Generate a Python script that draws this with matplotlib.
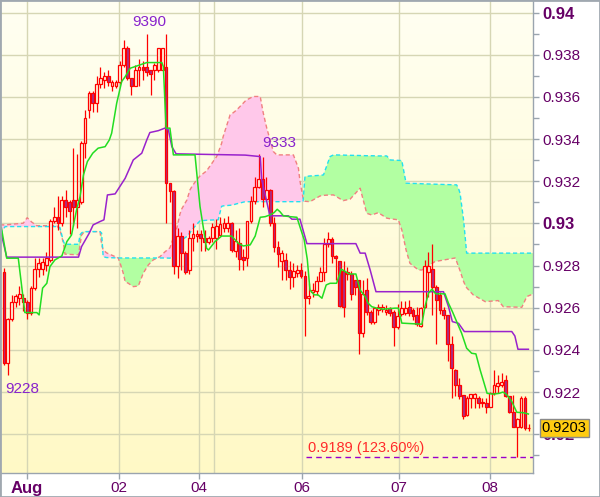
import numpy as np
import matplotlib
matplotlib.use("Agg")
import matplotlib.pyplot as plt
from matplotlib.patches import Rectangle
from matplotlib.colors import LinearSegmentedColormap
from matplotlib.transforms import blended_transform_factory

plt.rcParams['font.family'] = ['Liberation Sans', 'DejaVu Sans']

# hourly bars, prices in pips (0.9xxx * 10000): (open, high, low, close)
bars = [
    (9277, 9279, 9233, 9234), (9234, 9255, 9228, 9254.5), (9254.5, 9266, 9253.5, 9262.5),
    (9262.5, 9266.5, 9260.5, 9265.5), (9264.5, 9270.5, 9261.5, 9266.5), (9264.5, 9266.5, 9258.5, 9262.5),
    (9262.5, 9263.5, 9254.5, 9257.5), (9257.5, 9270.5, 9256.5, 9269.5), (9269.5, 9283.5, 9268.5, 9278.5),
    (9278.5, 9283.5, 9274.5, 9281), (9278.5, 9283.5, 9275.5, 9281.5), (9280.5, 9286.5, 9277.5, 9283.5),
    (9282.5, 9302, 9281.5, 9301), (9301, 9308, 9300, 9303), (9303, 9313, 9297, 9300),
    (9300, 9313, 9299, 9311), (9311, 9316, 9303, 9308), (9310, 9311, 9295, 9306),
    (9311, 9336, 9299, 9308), (9308, 9333, 9298, 9311), (9310, 9339, 9309, 9338),
    (9338, 9354, 9331, 9350), (9354, 9363, 9350, 9362), (9362, 9363, 9353, 9357),
    (9357, 9370, 9353, 9366), (9366, 9374, 9364, 9369), (9368, 9372, 9364, 9370),
    (9370, 9373, 9365, 9367), (9365, 9368, 9363, 9367), (9365, 9368, 9364, 9367),
    (9367, 9377, 9366, 9375), (9375, 9387, 9374, 9383), (9383, 9384, 9368, 9369),
    (9369, 9369, 9361, 9365), (9365, 9375, 9365, 9373), (9373, 9378, 9365, 9374),
    (9374, 9377, 9368, 9373), (9374, 9390, 9370, 9372), (9373, 9373, 9361, 9371),
    (9373, 9376, 9368, 9375), (9373, 9383, 9372, 9383), (9373, 9383, 9373, 9383),
    (9374, 9390, 9300, 9319), (9319, 9319, 9310, 9315.5), (9315.5, 9316, 9276, 9280),
    (9280, 9298, 9274, 9294), (9294, 9296, 9278, 9286), (9286, 9287, 9276, 9277),
    (9278, 9297, 9276, 9293), (9293, 9300, 9287, 9295), (9294, 9297, 9291, 9295),
    (9295, 9297, 9287, 9293), (9293, 9297, 9287, 9291), (9291, 9294, 9290, 9293),
    (9293, 9300, 9291, 9298.5), (9293, 9302, 9288, 9299), (9294.5, 9303, 9294, 9299.5),
    (9298, 9302.5, 9296, 9300), (9298, 9303.5, 9296, 9300), (9300, 9300.5, 9286.5, 9287.5),
    (9287, 9297, 9284, 9291.5), (9290.5, 9298, 9278, 9283), (9284, 9288, 9278, 9282.5),
    (9283.5, 9301, 9280, 9301), (9301, 9313, 9300, 9310.5), (9310.5, 9322, 9309, 9317.5),
    (9317.5, 9333, 9317, 9321), (9321, 9331.5, 9308, 9311.5), (9311.5, 9322, 9311, 9316),
    (9316, 9316.5, 9299, 9300), (9300, 9303, 9286.5, 9289), (9289, 9291.5, 9279.5, 9285.5),
    (9282, 9287.5, 9273, 9286), (9282.5, 9286, 9273, 9278), (9278, 9282, 9269, 9274.5),
    (9274.5, 9281, 9270, 9277.5), (9276.5, 9280.5, 9274.5, 9278), (9278, 9281, 9274, 9275),
    (9275, 9277.5, 9246.5, 9264.5), (9264.5, 9271.5, 9262, 9265.5), (9267.5, 9271.5, 9265, 9268.5),
    (9268, 9275, 9266, 9272.5), (9272.5, 9279.5, 9272.5, 9277), (9277, 9293, 9272.5, 9290),
    (9290, 9296, 9289, 9292.5), (9292.5, 9293.5, 9281, 9284.5), (9284.5, 9285, 9273, 9283.5),
    (9282, 9282, 9260.5, 9261), (9277.5, 9282, 9255.5, 9260.5), (9276, 9279.5, 9273, 9277),
    (9276, 9277.5, 9263.5, 9266.5), (9273, 9273, 9266, 9270), (9273, 9273, 9238, 9248),
    (9248, 9273, 9246, 9266.5), (9268.5, 9274, 9256.5, 9258), (9258, 9259, 9252.5, 9253),
    (9253, 9260.5, 9252.5, 9260), (9259, 9262, 9256.5, 9260.5), (9259.5, 9262, 9258, 9260.5),
    (9258, 9261.5, 9256.5, 9259), (9260, 9260.5, 9256, 9257.5), (9258, 9259, 9242, 9251),
    (9251, 9262, 9250, 9256), (9257, 9263, 9256, 9260), (9257.5, 9263, 9256.5, 9260),
    (9260.5, 9263.5, 9256, 9257.5), (9259, 9260, 9254, 9256), (9256.5, 9260.5, 9251.5, 9252.5),
    (9251.5, 9260.5, 9251, 9260), (9260.5, 9282.5, 9260, 9280), (9277, 9286.5, 9265, 9280),
    (9278.5, 9290, 9256.5, 9270), (9270, 9271, 9243, 9263.5), (9266, 9267.5, 9257, 9259),
    (9259, 9260.5, 9254.5, 9256.5), (9256.5, 9256.5, 9234.5, 9243), (9243, 9246.5, 9217, 9231.5),
    (9230.5, 9231, 9218, 9223.5), (9223.5, 9226.5, 9216.5, 9218), (9218.5, 9218.5, 9207, 9208.5),
    (9209, 9218, 9208.5, 9217), (9217, 9219, 9212.5, 9219), (9217, 9219.5, 9212.5, 9219),
    (9217, 9218, 9212.5, 9215), (9215.5, 9217, 9213, 9215), (9215, 9217, 9210, 9213),
    (9213, 9220, 9213, 9219.5), (9219.5, 9230.5, 9218.5, 9223.5), (9223, 9228, 9219.5, 9224.5),
    (9223.5, 9229, 9222.5, 9225), (9225.5, 9228, 9217.5, 9218), (9218, 9218, 9210, 9210.5),
    (9210.5, 9218.5, 9203.5, 9203.5), (9203.5, 9207.5, 9189, 9207), (9203.5, 9218, 9203, 9217),
    (9217, 9218, 9202, 9203), (9203, 9205, 9201.5, 9203),
]

# tenkan-sen (green) and kijun-sen (purple) as (bar, price) vertices
tenkan_pts = [
    (-0.7, 9298), (0.7, 9283.5), (3.7, 9283.5), (5.4, 9257.7), (8.5, 9257.7), (9.1, 9256.6),
    (10.0, 9269.3), (11.1, 9271.6), (11.9, 9279.5), (13.2, 9282.7), (15.0, 9284.6), (16.3, 9291.4),
    (17.5, 9294.5), (18.8, 9306.4), (19.7, 9312.7), (20.6, 9323), (21.6, 9329.3), (23.0, 9333.3),
    (24.4, 9335.7), (26.2, 9336.4), (27.3, 9339.6), (27.9, 9342.8), (29.2, 9357), (30.5, 9367.3),
    (31.4, 9369.6), (32.7, 9373.6), (37.0, 9376.3), (40.9, 9376.3), (41.3, 9374.4), (42.0, 9345.2),
    (43.0, 9345.2), (43.9, 9332.5), (49.5, 9332.5), (50.8, 9308), (52.5, 9288.2), (53.0, 9287.4),
    (54.7, 9291.4), (56.4, 9294), (59.0, 9294), (60.7, 9290.6), (62.0, 9289.3), (63.8, 9289.8),
    (65.1, 9294), (66.4, 9302.9), (67.7, 9303.2), (68.9, 9304), (70.0, 9305.1), (70.8, 9306.7),
    (71.5, 9305.6), (72.4, 9303.6), (74.1, 9303.2), (75.9, 9302.9), (77.8, 9292.2), (78.6, 9283),
    (79.3, 9268.4), (80.4, 9266.1), (81.4, 9266.1), (82.4, 9264.5), (83.5, 9270.8), (84.5, 9271.6),
    (86.2, 9271.6), (87.4, 9278.3), (88.5, 9277.1), (89.5, 9276), (91.2, 9276), (92.3, 9268.4),
    (93.6, 9265.3), (94.4, 9262.1), (95.3, 9260.5), (96.6, 9259.8), (98.3, 9259.3), (101.3, 9259.8),
    (102.2, 9259.8), (103.1, 9252.7), (107.0, 9252.3), (108.3, 9252.2), (109.1, 9260.5), (110.0, 9266.9),
    (110.9, 9268.8), (111.9, 9266.6), (114.3, 9266.6), (115.2, 9262.1), (116.2, 9258.2), (118.6, 9247.9),
    (119.9, 9240.8), (121.2, 9238.4), (122.3, 9238.1), (123.4, 9230.5), (124.3, 9225), (125.2, 9219.4),
    (126.8, 9219), (128.4, 9219.4), (129.3, 9220), (130.3, 9218.8), (131.6, 9215.5), (132.9, 9210.4),
    (134.6, 9210.2), (135.9, 9209.6),
]
kijun_pts = [
    (-0.7, 9295), (0.7, 9284), (19.3, 9284), (20.1, 9289), (22.1, 9295.4), (23.1, 9299.3),
    (24.9, 9300.9), (25.9, 9301.7), (26.8, 9313.5), (28.8, 9314), (31.4, 9321.4), (33.5, 9330.1),
    (35.7, 9333.3), (37.0, 9339.6), (37.8, 9343.1), (40.0, 9344), (41.7, 9345.2), (42.6, 9344.4),
    (43.5, 9336.4), (44.6, 9333), (62.5, 9332.4), (66.4, 9331.7), (66.8, 9320.6), (68.1, 9310.3),
    (68.9, 9303.6), (73.7, 9303.6), (74.6, 9302), (76.7, 9302), (78.5, 9290.4), (91.2, 9290.4),
    (92.3, 9285.9), (93.6, 9285.9), (94.9, 9277.9), (96.4, 9267.6), (113.9, 9267.6), (115.2, 9260.5),
    (116.2, 9253.4), (117.8, 9252.6), (119.3, 9248.7), (131.6, 9248.7), (132.4, 9246.6), (133.2, 9240.3),
    (135.9, 9240.3),
]

# cloud: (bar, senkou A, senkou B)
cloud_pts = [
    (-1.0, 9295, 9299.3), (0.3, 9298.5, 9299.3), (5.0, 9298.5, 9300.1), (6.0, 9298.5, 9302.7),
    (7.2, 9298.5, 9300.6), (8.5, 9298.5, 9298.9), (13.7, 9298.5, 9298.9), (14.5, 9298, 9296.9),
    (15.4, 9291.4, 9290.6), (15.8, 9290.1, 9285.4), (19.3, 9290.1, 9285.1), (19.7, 9294.5, 9289.8),
    (20.1, 9295.5, 9294.5), (20.6, 9296.1, 9295.5), (21.4, 9296.1, 9296.1), (24.9, 9296.1, 9296.1),
    (25.3, 9295.4, 9290), (25.7, 9284.2, 9287.4), (26.6, 9283.8, 9286), (29.6, 9283.6, 9283.6),
    (30.1, 9283.6, 9281.1), (30.9, 9283.6, 9276.4), (31.4, 9283.6, 9272.4), (32.2, 9283.6, 9271.6),
    (33.5, 9283.6, 9270), (34.8, 9283.6, 9270.3), (36.1, 9283.6, 9276.4), (37.4, 9283.6, 9280.3),
    (38.7, 9283.6, 9282.7), (40.4, 9283.6, 9284.2), (41.7, 9283.6, 9286.5), (43.0, 9283.5, 9288.4),
    (44.8, 9285.9, 9297.9), (45.6, 9289, 9304.5), (46.1, 9292.2, 9307), (47.4, 9293.8, 9311.1),
    (48.2, 9295.5, 9315.9), (48.7, 9296.9, 9317.5), (49.9, 9299.5, 9320.6), (50.8, 9301.2, 9322.5),
    (52.5, 9301.5, 9324.9), (55.1, 9301.7, 9331.7), (55.5, 9301.7, 9333.5), (56.4, 9308.1, 9338),
    (56.8, 9308.3, 9341.2), (58.6, 9308.6, 9351.5), (59.4, 9308.8, 9352.5), (60.3, 9309.3, 9353.8),
    (62.5, 9310.3, 9358), (62.9, 9310.3, 9358.6), (64.6, 9310.3, 9360.2), (66.4, 9310.3, 9360.2),
    (67.2, 9310.3, 9352.3), (68.1, 9310.3, 9345.2), (69.8, 9310.3, 9334.1), (70.7, 9310.3, 9332.5),
    (75.0, 9310.3, 9332.5), (76.3, 9310.3, 9326.2), (76.7, 9310.3, 9320.2), (77.5, 9310.3, 9312),
    (78.0, 9322.2, 9310.5), (79.3, 9322.5, 9310.3), (81.9, 9322.8, 9313), (82.8, 9323, 9313.3),
    (84.5, 9331.7, 9313.5), (85.4, 9332.5, 9313.5), (87.9, 9332.4, 9310.8), (89.7, 9332.3, 9311.5),
    (92.3, 9332.2, 9316.7), (94.0, 9332.1, 9304.8), (95.3, 9332.1, 9304), (97.0, 9332, 9305.1),
    (99.2, 9332, 9302.5), (100.1, 9330.1, 9302.2), (102.2, 9329.9, 9301.7), (103.1, 9329.8, 9296.9),
    (104.2, 9319.1, 9287.4), (105.2, 9319, 9281.1), (107.4, 9318.9, 9277.9), (108.3, 9318.8, 9277.9),
    (111.7, 9318.6, 9281.9), (116.9, 9318.3, 9283.6), (117.3, 9318.3, 9282), (117.8, 9316.5, 9279.5),
    (118.2, 9314.3, 9277.5), (119.1, 9301.7, 9272.5), (119.5, 9294, 9270.8), (119.9, 9285.9, 9269.5),
    (121.6, 9285.9, 9266.1), (124.7, 9285.9, 9262.9), (128.1, 9285.9, 9263.4), (129.4, 9285.9, 9260.5),
    (134.2, 9285.9, 9260.2), (135.5, 9285.9, 9265.3), (137.2, 9285.9, 9266.6),
]

# day separators (bar positions) and their labels
day_ticks = [5.96, 29.81, 50.54, 77.24, 102.39, 125.97]
day_labels = ['Aug', '02', '04', '06', '07', '08']
extra_grid = [54.43]

extremes = [(37.6, 9390, 'bottom'), (71.3, 9333, 'bottom'), (4.8, 9228, 'top')]
fib_level = 9189
fib_start = 78.3
fib_text = '0.9189 (123.60%)'
last_price = 9203

LABEL = '#660066'
RED = '#ff0000'
BODY_DN = '#a8308a'
BODY_UP = '#fffbe2'

fig = plt.figure(figsize=(6.0, 4.97), dpi=100)
ax = fig.add_axes([1 / 600, 24 / 497, 532 / 600, 472 / 497])
x0, x1 = -0.78, 137.1
y0, y1 = 9181.6, 9405.5
ax.set_xlim(x0, x1)
ax.set_ylim(y0, y1)

bg = LinearSegmentedColormap.from_list('bg', ['#fffff2', '#fff9c6'])
ax.imshow(np.linspace(0, 1, 256).reshape(-1, 1), cmap=bg, aspect='auto',
          extent=[x0, x1, y0, y1], origin='upper', zorder=0)

# grid
for v in np.arange(9200, 9401, 20):
    ax.axhline(v, color='#d6d6b4', lw=1, zorder=0.5)
for v in day_ticks + extra_grid:
    ax.axvline(v, color='#d6d6b4', lw=1, zorder=0.5)

# ichimoku cloud
cx = np.array([p[0] for p in cloud_pts])
sa = np.array([p[1] for p in cloud_pts])
sb = np.array([p[2] for p in cloud_pts])
ax.fill_between(cx, sa, sb, where=sa >= sb, interpolate=True, color='#b2ffa2', lw=0, zorder=1)
ax.fill_between(cx, sa, sb, where=sb >= sa, interpolate=True, color='#ffc8ea', lw=0, zorder=1)
ax.plot(cx, sb, color='#f08080', lw=1, ls=(0, (3, 2)), zorder=1.5)
ax.plot(cx, sa, color='#22e0f0', lw=1, ls=(0, (3, 2)), zorder=1.6)

# candles
w = 0.72
for i, (o, h, l, c) in enumerate(bars):
    ax.vlines(i, l, h, color=RED, lw=0.9, zorder=3)
    up = c >= o
    ax.add_patch(Rectangle((i - w / 2, min(o, c)), w, max(abs(c - o), 0.01),
                           facecolor=BODY_UP if up else BODY_DN, edgecolor=RED,
                           lw=0.9, zorder=3.1))

ax.plot([p[0] for p in kijun_pts], [p[1] for p in kijun_pts], color='#9922cc', lw=1.1, zorder=4)
ax.plot([p[0] for p in tenkan_pts], [p[1] for p in tenkan_pts], color='#22dd22', lw=1.1, zorder=4.1)

# fibo level
ax.hlines(fib_level, fib_start, x1, color='#9900cc', lw=1, ls=(0, (4, 3)), zorder=4)
ax.text(fib_start + 0.5, fib_level + 1.2, fib_text, color='#ff2a2a', fontsize=10.5,
        ha='left', va='bottom', zorder=5)

for xi, v, va in extremes:
    ax.text(xi, v + (2 if va == 'bottom' else -3), str(v), color='#8822cc', fontsize=11,
            ha='center', va=va, zorder=5)

# axes styling
for s in ('left', 'top'):
    ax.spines[s].set_visible(False)
for s in ('right', 'bottom'):
    ax.spines[s].set_color('#9aa4ae')
    ax.spines[s].set_linewidth(1)

ax.yaxis.tick_right()
yt = list(range(9200, 9401, 20))
ax.set_yticks(yt)
ax.set_yticklabels(['0.%s' % str(v).rstrip('0') if v % 100 == 0 else '0.%d' % (v // 10) for v in yt])
ax.set_yticks(list(range(9190, 9400, 20)), minor=True)
ax.tick_params(axis='y', which='both', direction='out', length=4, width=1, color='#9aa4ae',
               pad=3, labelsize=11, labelcolor=LABEL)
for t, v in zip(ax.get_yticklabels(), yt):
    if v % 100 == 0:
        t.set_fontweight('bold')
        t.set_fontsize(12)

ax.set_xticks(day_ticks)
ax.set_xticklabels(day_labels)
ax.tick_params(axis='x', direction='out', length=4, width=1, color='#9aa4ae', pad=2,
               labelsize=11, labelcolor=LABEL)
ax.get_xticklabels()[0].set_fontweight('bold')
ax.get_xticklabels()[0].set_fontsize(12)

# last price box (covers the 0.92 label, as in the original)
tr = blended_transform_factory(ax.transAxes, ax.transData)
ax.text(1.0165, last_price, '0.%d' % last_price, transform=tr, ha='left', va='center',
        fontsize=10.5, color='#000000', clip_on=False, zorder=10,
        bbox=dict(boxstyle='square,pad=0.14', fc='#ffcc11', ec='#8a8a8a', lw=1))

fig.patches.append(Rectangle((0, 0), 1, 1, transform=fig.transFigure, fill=False,
                             edgecolor='#a0a8b0', lw=2))

fig.savefig('out.png', dpi=100)
